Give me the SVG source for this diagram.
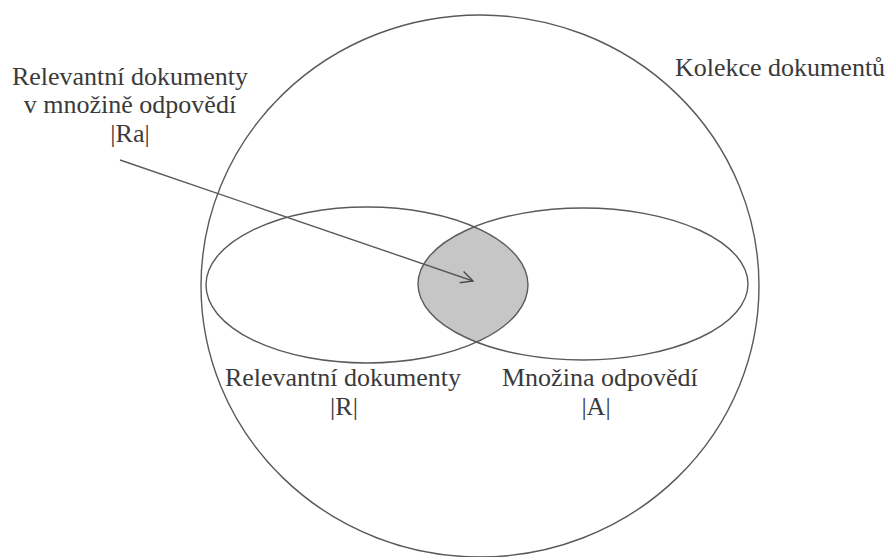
<svg xmlns="http://www.w3.org/2000/svg" width="888" height="557" viewBox="0 0 888 557">
<style>
.ln{fill:none;stroke:#5a5a5a;stroke-width:1.4}
text{font-family:'Liberation Serif','DejaVu Serif',serif;font-size:26px;fill:#3a3a3a}
.c{text-anchor:middle}
</style>
<defs>
<clipPath id="clipR"><ellipse cx="367" cy="285" rx="161" ry="78"/></clipPath>
<marker id="arr" markerWidth="14" markerHeight="14" refX="13" refY="7" orient="auto" markerUnits="userSpaceOnUse">
<path d="M1,1 L13,7 L1,13" fill="none" stroke="#4a4a4a" stroke-width="1.4"/>
</marker>
</defs>
<rect width="888" height="557" fill="#ffffff"/>
<g id="collection">
<ellipse class="ln" cx="480" cy="286" rx="279" ry="271"/>
<text font-family="Liberation Serif, serif" x="675" y="76">Kolekce dokumentů</text>
</g>
<g id="intersection">
<ellipse cx="583" cy="284" rx="165" ry="76" fill="#c6c6c6" clip-path="url(#clipR)"/>
</g>
<g id="relevant">
<ellipse class="ln" cx="367" cy="285" rx="161" ry="78"/>
<text class="c" font-family="Liberation Serif, serif" x="343" y="386">Relevantní dokumenty</text>
<text class="c" font-family="Liberation Serif, serif" x="344" y="415">|R|</text>
</g>
<g id="answer">
<ellipse class="ln" cx="583" cy="284" rx="165" ry="76"/>
<text font-family="Liberation Serif, serif" x="502" y="386">Množina odpovědí</text>
<text class="c" font-family="Liberation Serif, serif" x="596" y="415">|A|</text>
</g>
<g id="ra-label">
<text class="c" font-family="Liberation Serif, serif" x="130" y="85">Relevantní dokumenty</text>
<text class="c" font-family="Liberation Serif, serif" x="130" y="113">v množině odpovědí</text>
<text class="c" font-family="Liberation Serif, serif" x="130" y="142">|Ra|</text>
</g>
<g id="connectors">
<line class="ln" x1="120" y1="160" x2="473" y2="281" marker-end="url(#arr)"/>
</g>
</svg>
